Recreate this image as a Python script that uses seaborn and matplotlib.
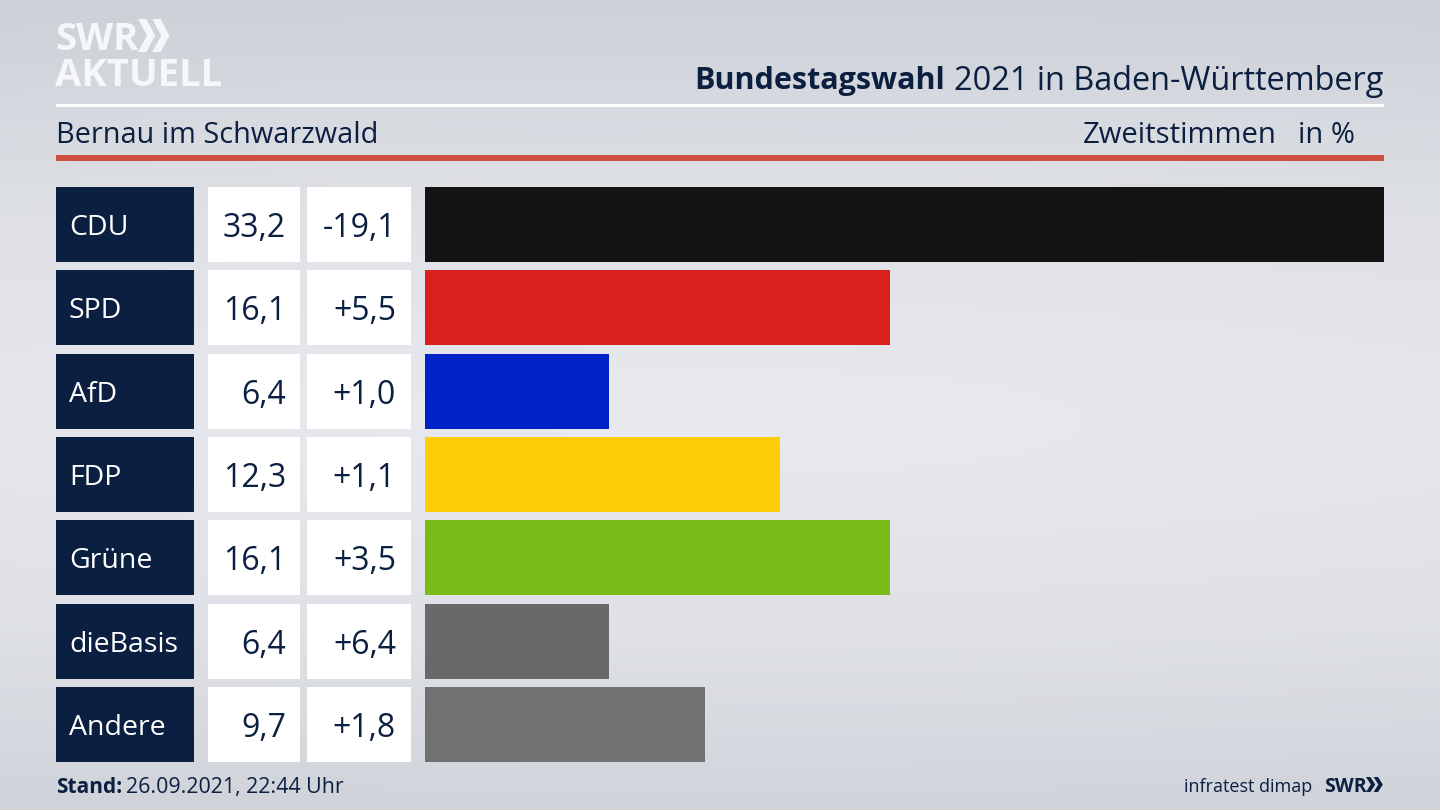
import numpy as np
import pandas as pd
import matplotlib
matplotlib.use('Agg')
import matplotlib.pyplot as plt
from matplotlib.patches import Rectangle, Polygon
import seaborn as sns

# Data
parties = ['CDU', 'SPD', 'AfD', 'FDP', 'Grüne', 'dieBasis', 'Andere']
shares = [33.2, 16.1, 6.4, 12.3, 16.1, 6.4, 9.7]
changes = ['-19,1', '+5,5', '+1,0', '+1,1', '+3,5', '+6,4', '+1,8']
bar_colors = ['#141414', '#d9201e', '#0023c8', '#ffcc08', '#78bc1a', '#696969', '#717171']

NAVY = '#0b1f40'
FONT = 'Open Sans'

sns.set_theme(style='white')
plt.rcParams['font.family'] = [FONT, 'DejaVu Sans']

df = pd.DataFrame({'party': parties, 'share': shares})

fig = plt.figure(figsize=(14.4, 8.1), dpi=100)

# background gradient, darker at top and bottom, lighter in the middle
bg = fig.add_axes([0, 0, 1, 1], zorder=0)
yy, xx = np.mgrid[0:1:200j, 0:1:356j]
dist = np.sqrt(((xx - 0.5) / 2.2) ** 2 + ((yy - 0.52) / 0.54) ** 2)
bg.imshow(np.clip(dist, 0, 1), cmap=matplotlib.colors.LinearSegmentedColormap.from_list(
    'bg', ['#e9eaef', '#dfe1e6', '#ccd0d7']), vmin=0, vmax=1, aspect='auto',
    extent=[0, 1440, 810, 0])
bg.set_xlim(0, 1440)
bg.set_ylim(810, 0)
bg.axis('off')

# bars, axes placed so the longest bar ends at the right rule
top, bottom = 182.8, 766.2
ax = fig.add_axes([424.5 / 1440, 1 - bottom / 810, 959.5 / 1440, (bottom - top) / 810], zorder=1)
sns.barplot(data=df, y='party', x='share', hue='party', palette=bar_colors,
            order=parties, hue_order=parties, legend=False, width=0.9, saturation=1,
            linewidth=0, ax=ax)
ax.set_xlim(0, max(shares))
ax.patch.set_alpha(0)
ax.set_xlabel('')
ax.set_ylabel('')
ax.set_xticks([])
ax.set_yticks([])
sns.despine(ax=ax, left=True, bottom=True)

# overlay in pixel coordinates for the table cells and header
ov = fig.add_axes([0, 0, 1, 1], zorder=2)
ov.set_xlim(0, 1440)
ov.set_ylim(810, 0)
ov.axis('off')
ov.patch.set_alpha(0)

# table cells line up with the bars
row_h = (bottom - top) / len(parties)
for i, party in enumerate(parties):
    cy = top + row_h * (i + 0.5)
    ov.add_patch(Rectangle((56, cy - 37.5), 138, 75, color=NAVY, lw=0))
    ov.add_patch(Rectangle((208, cy - 37.5), 92, 75, color='white', lw=0))
    ov.add_patch(Rectangle((307, cy - 37.5), 104, 75, color='white', lw=0))
    ov.text(69, cy, party, color='white', fontsize=20.5, va='center_baseline', ha='left')
    ov.text(286, cy, f'{shares[i]:.1f}'.replace('.', ','), color=NAVY, fontsize=23,
            va='center_baseline', ha='right')
    ov.text(396, cy, changes[i], color=NAVY, fontsize=23, va='center_baseline', ha='right')

# header rules
ov.add_patch(Rectangle((56, 104), 1328, 3, color='white', lw=0))
ov.add_patch(Rectangle((56, 155), 1328, 5.5, color='#cf5040', lw=0))

# header text, bold part placed left of the regular part
rest = ov.text(1383, 78, '2021 in Baden-Württemberg', color=NAVY, fontsize=23.4,
               va='center_baseline', ha='right')
fig.canvas.draw()
rest_w = rest.get_window_extent().width
ov.text(1383 - rest_w - 9, 78, 'Bundestagswahl', color=NAVY, fontsize=22, fontweight='bold',
        va='center_baseline', ha='right')
ov.text(56, 132, 'Bernau im Schwarzwald', color=NAVY, fontsize=20.8, va='center_baseline', ha='left')
ov.text(1277, 132, 'Zweitstimmen', color=NAVY, fontsize=21.1, va='center_baseline', ha='right')
ov.text(1355, 132, 'in %', color=NAVY, fontsize=21, va='center_baseline', ha='right')

# footer
ov.text(56, 785, 'Stand:', color=NAVY, fontsize=15, fontweight='bold',
        va='center_baseline', ha='left')
ov.text(126, 785, '26.09.2021, 22:44 Uhr', color=NAVY, fontsize=15.4,
        va='center_baseline', ha='left')
ov.text(1312, 785, 'infratest dimap', color=NAVY, fontsize=13, va='center_baseline', ha='right')
ov.text(1324, 785, 'SWR', color=NAVY, fontsize=14, fontweight='bold',
        va='center_baseline', ha='left')


def chevrons(x, y, h, w, color):
    # two arrow heads of the SWR logo
    for dx in (0, w * 0.95):
        ov.add_patch(Polygon([(x + dx, y), (x + dx + w * 0.55, y), (x + dx + w * 1.15, y + h / 2),
                              (x + dx + w * 0.55, y + h), (x + dx, y + h),
                              (x + dx + w * 0.6, y + h / 2)], closed=True, color=color, lw=0))


chevrons(1366, 777, 15, 8, NAVY)

# logo
ov.text(55, 36, 'SWR', color='#f6f7f9', fontsize=27.5, fontweight='bold',
        va='center_baseline', ha='left')
chevrons(138, 19, 33, 15, '#f6f7f9')
ov.text(55, 72, 'AKTUELL', color='#f6f7f9', fontsize=27.5, fontweight='bold',
        va='center_baseline', ha='left')

fig.savefig('out.png', dpi=100)
